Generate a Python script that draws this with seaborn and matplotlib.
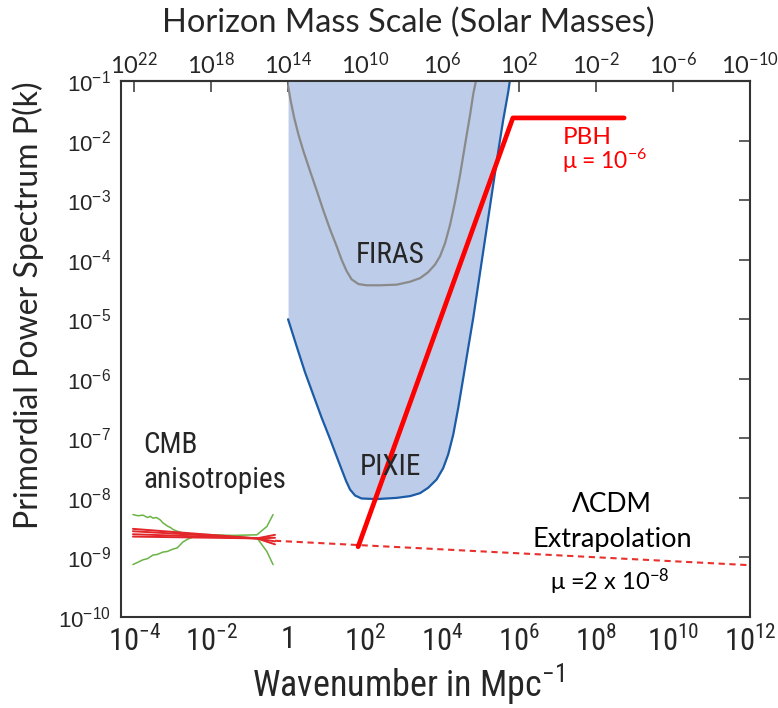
import numpy as np
import matplotlib
matplotlib.use('Agg')
import matplotlib.pyplot as plt
from matplotlib import font_manager
from matplotlib.ticker import FixedLocator, FuncFormatter, NullLocator
import seaborn as sns

# values, stored as log10(k) / log10(P)
pixie_logk = [0.0, 0.23, 0.44, 0.66, 0.87, 1.09, 1.26, 1.39, 1.51, 1.61, 1.74, 1.91, 2.30, 2.82,
              3.17, 3.43, 3.64, 3.86, 4.03, 4.16, 4.29, 4.42, 4.55, 4.68, 4.81, 4.94, 5.07, 5.20,
              5.33, 5.46, 5.59, 5.72, 5.81]
pixie_logp = [-5.00, -5.47, -5.89, -6.28, -6.65, -7.01, -7.30, -7.52, -7.72, -7.86, -7.96, -8.01,
              -8.02, -8.00, -7.97, -7.92, -7.83, -7.69, -7.50, -7.27, -6.94, -6.49, -5.99, -5.48,
              -4.98, -4.42, -3.86, -3.30, -2.74, -2.18, -1.65, -1.18, -0.78]

firas_logk = [0.0, 0.07, 0.16, 0.27, 0.40, 0.57, 0.75, 0.92, 1.09, 1.26, 1.39, 1.52, 1.65, 1.83,
              2.04, 2.39, 2.82, 3.17, 3.43, 3.64, 3.82, 3.95, 4.08, 4.21, 4.34, 4.47, 4.60, 4.73,
              4.81, 4.88, 4.90]
firas_logp = [-1.08, -1.34, -1.62, -1.90, -2.18, -2.51, -2.85, -3.18, -3.49, -3.77, -4.00, -4.19,
              -4.33, -4.41, -4.43, -4.43, -4.42, -4.37, -4.31, -4.21, -4.08, -3.94, -3.72, -3.41,
              -3.02, -2.57, -2.06, -1.56, -1.22, -1.00, -0.90]

pbh_logk = [1.82, 5.84, 8.73]
pbh_logp = [-8.82, -1.62, -1.62]

lcdm_logk = [-0.34, 12.0]
lcdm_logp = [-8.72, -9.13]

cmb_up_logk = [-4.03, -3.90, -3.77, -3.65, -3.58, -3.51, -3.42, -3.32, -3.25, -3.14, -3.05, -2.99,
               -2.88, -2.73, -2.47, -1.43, -0.81, -0.55, -0.39]
cmb_up_logp = [-8.28, -8.30, -8.29, -8.33, -8.31, -8.34, -8.33, -8.37, -8.42, -8.47, -8.50, -8.53,
               -8.56, -8.59, -8.61, -8.63, -8.62, -8.48, -8.28]
cmb_lo_logk = [-4.03, -3.90, -3.77, -3.65, -3.51, -3.40, -3.25, -3.14, -2.99, -2.88, -2.73, -2.60,
               -2.47, -1.43, -0.81, -0.55, -0.39]
cmb_lo_logp = [-9.12, -9.08, -9.04, -9.02, -8.96, -8.95, -8.91, -8.90, -8.86, -8.84, -8.74, -8.69,
               -8.66, -8.66, -8.67, -8.90, -9.12]

cmb_fit_logk = [-4.03, -0.81, -0.34]
cmb_fit_logp = [[-8.52, -8.68, -8.62],
                [-8.56, -8.68, -8.67],
                [-8.61, -8.68, -8.73],
                [-8.65, -8.68, -8.78]]

k_ticks = [1e-4, 1e-2, 1, 1e2, 1e4, 1e6, 1e8, 1e10, 1e12]
p_ticks = [1e-10, 1e-9, 1e-8, 1e-7, 1e-6, 1e-5, 1e-4, 1e-3, 1e-2, 1e-1]
mass_ticks = [1e22, 1e18, 1e14, 1e10, 1e6, 1e2, 1e-2, 1e-6, 1e-10]


def k_to_mass(k):
    k = np.asarray(k, dtype=float)
    with np.errstate(divide='ignore', invalid='ignore'):
        return 1e14 / k ** 2


def mass_to_k(m):
    m = np.asarray(m, dtype=float)
    with np.errstate(divide='ignore', invalid='ignore'):
        return np.sqrt(1e14 / m)


def pow10(v, pos):
    e = int(round(np.log10(v)))
    if e == 0:
        return '1'
    return r'$\mathregular{10^{%d}}$' % e


def curve(logk, logp, **kw):
    sns.lineplot(x=np.power(10.0, logk), y=np.power(10.0, logp), ax=ax,
                 sort=False, estimator=None, legend=False, **kw)


sns.set_style('white')
installed = {f.name for f in font_manager.fontManager.ttflist}
COND = next((n for n in ['Liberation Sans Narrow', 'Roboto Condensed'] if n in installed), 'Roboto')
NARROW = COND != 'Roboto'
SANS = ['Lato', 'DejaVu Sans']
ARIAL = 'Liberation Sans'
plt.rcParams['font.family'] = SANS

fig = plt.figure(figsize=(7.78, 7.08), dpi=100)
ax = fig.add_axes([121 / 778, 1 - 617 / 708, 629 / 778, 536 / 708])
ax.set_xscale('log')
ax.set_yscale('log')

# PIXIE sensitivity region
ax.fill_between(np.power(10.0, pixie_logk), np.power(10.0, pixie_logp), 1.0,
                color='#bdcce8', lw=0, zorder=1)
curve(pixie_logk, pixie_logp, color='#1c5ba6', lw=1.6, zorder=2)
curve(firas_logk, firas_logp, color='#8a8a8a', lw=1.6, zorder=2)

# CMB measurements
curve(cmb_up_logk, cmb_up_logp, color='#6ab446', lw=1.1, zorder=3)
curve(cmb_lo_logk, cmb_lo_logp, color='#6ab446', lw=1.1, zorder=3)
for fit in cmb_fit_logp:
    curve(cmb_fit_logk, fit, color='#e3262a', lw=1.4, zorder=4)

curve(lcdm_logk, lcdm_logp, color='#e8302c', lw=1.5, linestyle=(0, (3, 2.2)), zorder=4)
curve(pbh_logk, pbh_logp, color='#ff0000', lw=3.4, zorder=5)

ax.set_xlim(10 ** -4.34, 1e12)
ax.set_ylim(1e-10, 1e-1)

ax.xaxis.set_major_locator(FixedLocator(k_ticks))
ax.yaxis.set_major_locator(FixedLocator(p_ticks))
ax.xaxis.set_minor_locator(NullLocator())
ax.yaxis.set_minor_locator(NullLocator())
ax.xaxis.set_major_formatter(FuncFormatter(pow10))
ax.yaxis.set_major_formatter(FuncFormatter(pow10))

ax.tick_params(axis='both', direction='in', length=8, width=1.1, color='#333333',
               right=True, top=False)
ax.tick_params(axis='x', labelsize=22 if NARROW else 19, labelfontfamily=COND, pad=6)
ax.tick_params(axis='y', labelsize=16, labelfontfamily=ARIAL, pad=7)
for s in ax.spines.values():
    s.set_linewidth(1.5)
    s.set_color('#333333')

sec = ax.secondary_xaxis('top', functions=(k_to_mass, mass_to_k))
sec.xaxis.set_major_locator(FixedLocator(mass_ticks))
sec.xaxis.set_minor_locator(NullLocator())
sec.xaxis.set_major_formatter(FuncFormatter(pow10))
sec.tick_params(direction='in', length=8, width=1.1, color='#333333', labelsize=17,
                labelfontfamily=SANS, pad=2)
sec.spines['top'].set_linewidth(1.5)
sec.spines['top'].set_color('#333333')

ax.set_xlabel(r'Wavenumber in Mpc$\mathregular{^{-1}}$', fontfamily=COND,
              fontsize=26 if NARROW else 22, va='center')
ax.xaxis.set_label_coords(0.456, -0.126)
ax.set_ylabel('Primordial Power Spectrum P(k)', fontsize=23, va='center', ha='center')
ax.yaxis.set_label_coords(-0.148, 0.582)
fig.text(408 / 778, 1 - 23 / 708, 'Horizon Mass Scale (Solar Masses)', fontsize=23.5,
         ha='center', va='center')

# annotations
lab = dict(fontfamily=COND, fontsize=21 if NARROW else 19.5, color='#262626', zorder=6)
ax.text(10 ** 2.65, 10 ** -4.06, 'FIRAS', ha='center', va='baseline', **lab)
ax.text(10 ** 2.65, 10 ** -7.61, 'PIXIE', ha='center', va='baseline', **lab)
ax.text(10 ** -3.77, 10 ** -7.25, 'CMB', ha='left', va='baseline', **lab)
ax.text(10 ** -3.77, 10 ** -7.84, 'anisotropies', ha='left', va='baseline', **lab)

ax.text(10 ** 7.14, 10 ** -2.06, 'PBH', color='#ff0000', fontsize=17.5, ha='left', va='baseline')
ax.text(10 ** 7.12, 10 ** -2.48, r'μ = 10$\mathregular{^{-6}}$', color='#ff0000', fontsize=16.5,
        ha='left', va='baseline')
ax.text(10 ** 8.42, 10 ** -8.23, 'ΛCDM', color='black', fontsize=19, ha='center', va='baseline')
ax.text(10 ** 8.42, 10 ** -8.82, 'Extrapolation', color='black', fontsize=19.5, ha='center', va='baseline')
ax.text(10 ** 8.36, 10 ** -9.54, r'μ =2 x 10$\mathregular{^{-8}}$', color='black', fontsize=17,
        ha='center', va='baseline')

fig.savefig('out.png', dpi=100)
